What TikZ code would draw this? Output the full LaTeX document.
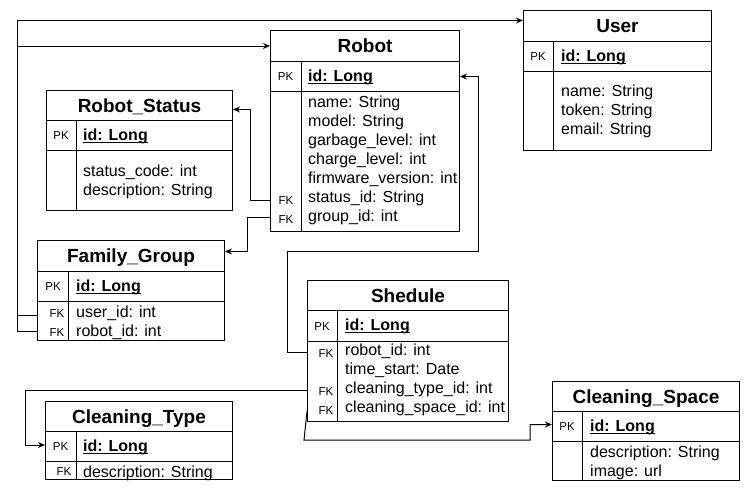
\documentclass[tikz,border=0pt]{standalone}
\usepackage{fontspec}
\setmainfont{Liberation Sans}
\usetikzlibrary{arrows.meta,calc}
\newcommand\myul[1]{\setbox0\hbox{#1}\rlap{\rule[-2.6pt]{\wd0}{1.1pt}}\box0}
\begin{document}
\begin{tikzpicture}[x=1pt,y=-1pt,
  cell/.style={draw, line width=1pt, inner sep=0pt, anchor=north west},
  ttl/.style={font=\fontsize{19}{22}\selectfont\bfseries, text height=13.6pt, text depth=0pt},
  pkl/.style={font=\fontsize{11.5}{13}\selectfont, inner sep=0pt, text height=8.3pt, text depth=0pt},
  fkl/.style={font=\fontsize{11.5}{13}\selectfont, inner sep=0pt, anchor=base},
  fld/.style={font=\fontsize{16}{19}\selectfont, inner sep=0pt, anchor=base west},
  idf/.style={font=\fontsize{16}{19}\selectfont\bfseries, inner sep=0pt, anchor=base west},
  divl/.style={line width=1pt},
  conn/.style={line width=1pt, -{Stealth[length=7pt,width=6pt]}}]
\useasboundingbox (0,0) rectangle (750,491);

% ---------- User ----------
\node[cell, ttl, minimum width=188pt, minimum height=31pt] (userT) at (523,10) {User};
\node[cell, minimum width=188pt, minimum height=30pt] (userP) at (523,41) {};
\node[cell, minimum width=188pt, minimum height=79pt] (userB) at (523,71) {};
\draw[divl] ($(userP.north west)+(30,0)$) -- ($(userB.south west)+(30,0)$);
\node[pkl] (userPK) at ($(userP.west)+(15,0)$) {PK};
\node[idf] (userId) at ($(userP.west)+(38,4.5)$) {\myul{id: Long}};
\node[fld] (u1) at (561,96) {name: String};
\node[fld] (u2) at (561,115) {token: String};
\node[fld] (u3) at (561,134) {email: String};

% ---------- Robot ----------
\node[cell, ttl, minimum width=189pt, minimum height=31pt] (robotT) at (270,30) {Robot};
\node[cell, minimum width=189pt, minimum height=30pt] (robotP) at (270,61) {};
\node[cell, minimum width=189pt, minimum height=140pt] (robotB) at (270,91) {};
\draw[divl] ($(robotP.north west)+(31,0)$) -- ($(robotB.south west)+(31,0)$);
\node[pkl] (robotPK) at ($(robotP.west)+(15.5,0)$) {PK};
\node[idf] (robotId) at ($(robotP.west)+(38,4.5)$) {\myul{id: Long}};
\node[fld] (r1) at (308,107) {name: String};
\node[fld] (r2) at (308,126) {model: String};
\node[fld] (r3) at (308,145) {garbage\_level: int};
\node[fld] (r4) at (308,164) {charge\_level: int};
\node[fld] (r5) at (308,183) {firmware\_version: int};
\node[fld] (r6) at (308,202) {status\_id: String};
\node[fld] (r7) at (308,221) {group\_id: int};
\node[fkl] (rfk1) at (286,204) {FK};
\node[fkl] (rfk2) at (286,223) {FK};

% ---------- Robot_Status ----------
\node[cell, ttl, minimum width=186pt, minimum height=30pt] (rsT) at (46,90) {Robot\_Status};
\node[cell, minimum width=186pt, minimum height=30pt] (rsP) at (46,120) {};
\node[cell, minimum width=186pt, minimum height=60pt] (rsB) at (46,150) {};
\draw[divl] ($(rsP.north west)+(30,0)$) -- ($(rsB.south west)+(30,0)$);
\node[pkl] (rsPK) at ($(rsP.west)+(15,0)$) {PK};
\node[idf] (rsId) at ($(rsP.west)+(37,4.5)$) {\myul{id: Long}};
\node[fld] (s1) at (83,176) {status\_code: int};
\node[fld] (s2) at (83,195) {description: String};

% ---------- Family_Group ----------
\node[cell, ttl, minimum width=187pt, minimum height=31pt] (famT) at (37,240) {Family\_Group};
\node[cell, minimum width=187pt, minimum height=30pt] (famP) at (37,271) {};
\node[cell, minimum width=187pt, minimum height=39pt] (famB) at (37,301) {};
\draw[divl] ($(famP.north west)+(31,0)$) -- ($(famB.south west)+(31,0)$);
\node[pkl] (famPK) at ($(famP.west)+(16,0)$) {PK};
\node[idf] (famId) at ($(famP.west)+(39,4.5)$) {\myul{id: Long}};
\node[fld] (f1) at (76,317) {user\_id: int};
\node[fld] (f2) at (76,336) {robot\_id: int};
\node[fkl] (ffk1) at (57,317) {FK};
\node[fkl] (ffk2) at (57,336) {FK};

% ---------- Shedule ----------
\node[cell, ttl, minimum width=201pt, minimum height=30pt] (shT) at (307,280) {Shedule};
\node[cell, minimum width=201pt, minimum height=31pt] (shP) at (307,310) {};
\node[cell, minimum width=201pt, minimum height=80pt] (shB) at (307,341) {};
\draw[divl] ($(shP.north west)+(30,0)$) -- ($(shB.south west)+(30,0)$);
\node[pkl] (shPK) at ($(shP.west)+(15,0)$) {PK};
\node[idf] (shId) at ($(shP.west)+(38,4.5)$) {\myul{id: Long}};
\node[fld] (h1) at (345,355) {robot\_id: int};
\node[fld] (h2) at (345,374) {time\_start: Date};
\node[fld] (h3) at (345,393) {cleaning\_type\_id: int};
\node[fld] (h4) at (345,412) {cleaning\_space\_id: int};
\node[fkl] (hfk1) at (326,357) {FK};
\node[fkl] (hfk3) at (326,395) {FK};
\node[fkl] (hfk4) at (326,414) {FK};

% ---------- Cleaning_Type ----------
\node[cell, ttl, minimum width=187pt, minimum height=30pt] (ctT) at (45,401) {Cleaning\_Type};
\node[cell, minimum width=187pt, minimum height=30pt] (ctP) at (45,431) {};
\node[cell, minimum width=187pt, minimum height=18pt] (ctB) at (45,461) {};
\draw[divl] ($(ctP.north west)+(31,0)$) -- ($(ctB.south west)+(31,0)$);
\node[pkl] (ctPK) at ($(ctP.west)+(15.5,0)$) {PK};
\node[idf] (ctId) at ($(ctP.west)+(38,4.5)$) {\myul{id: Long}};
\begin{scope}
\clip (ctB.north west) rectangle (ctB.south east);
\node[fld] (c1) at (83,477.5) {description: String};
\node[fkl] (cfk1) at (64,475) {FK};
\end{scope}

% ---------- Cleaning_Space ----------
\node[cell, ttl, minimum width=187pt, minimum height=30pt] (csT) at (552,381) {Cleaning\_Space};
\node[cell, minimum width=187pt, minimum height=30pt] (csP) at (552,411) {};
\node[cell, minimum width=187pt, minimum height=39pt] (csB) at (552,441) {};
\draw[divl] ($(csP.north west)+(30,0)$) -- ($(csB.south west)+(30,0)$);
\node[pkl] (csPK) at ($(csP.west)+(15,0)$) {PK};
\node[idf] (csId) at ($(csP.west)+(38,4.5)$) {\myul{id: Long}};
\node[fld] (p1) at (590,457) {description: String};
\node[fld] (p2) at (590,476) {image: url};

% ---------- row coordinates ----------
\coordinate (fU) at (37,315);
\coordinate (fR) at (37,331);
\coordinate (rS) at (270,200.5);
\coordinate (rG) at (270,217.5);
\coordinate (sR) at (307,352);
\coordinate (sT) at (307,390);
\coordinate (sC) at (307,411.5);

% ---------- connectors ----------
\draw[conn] (famB.west |- fU) -- ++(-20,0) |- ([yshift=5.5pt]userT.west);
\draw[conn] (famB.west |- fR) -- ++(-20,0) |- (robotT.west);
\draw[conn] (robotB.west |- rS) -- ++(-20,0) |- ([yshift=-4pt]rsT.east);
\draw[conn] (robotB.west |- rG) -- ++(-23,0) |- ([yshift=4.5pt]famT.east);
\draw[conn] (shB.west |- sR) -- ++(-20,0) -- ++(0,-101) -- ++(191,0) |- (robotP.east);
\draw[conn] (shB.west |- sT) -- ++(-282,0) |- ([yshift=1.5pt]ctP.west);
\draw[conn] (shB.west |- sC) -- ++(-3,28.5) -- ++(226,0) |- ([yshift=2pt]csP.west);
\end{tikzpicture}
\end{document}
